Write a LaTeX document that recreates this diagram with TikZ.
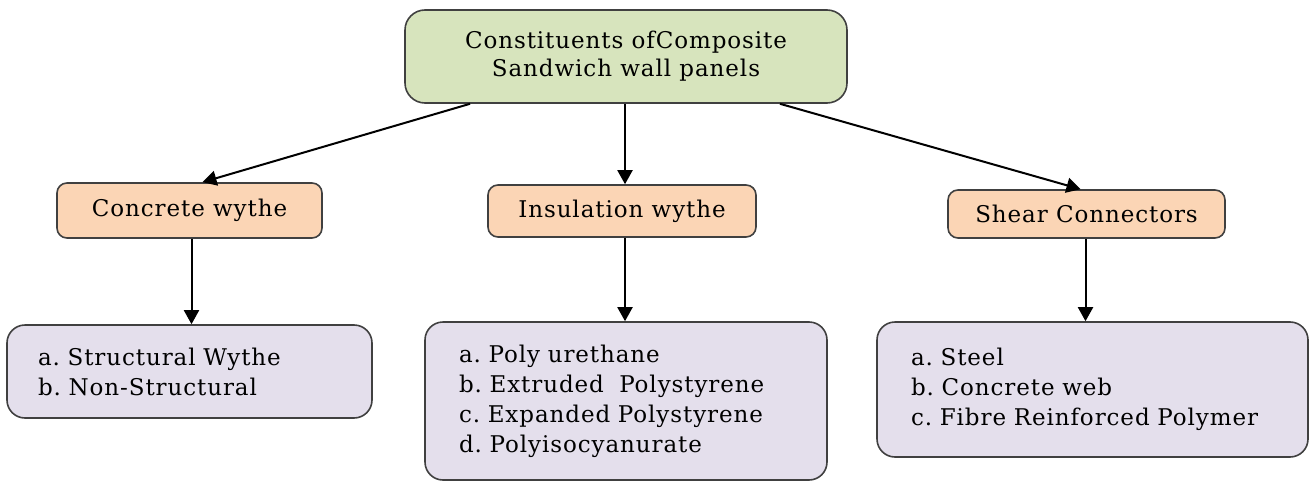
\documentclass[tikz,border=0pt]{standalone}
\usepackage{fontspec}
\setmainfont{DejaVu Serif}[LetterSpace=4]
\usetikzlibrary{arrows.meta}
\definecolor{topfill}{HTML}{D7E4BD}
\definecolor{midfill}{HTML}{FBD5B5}
\definecolor{botfill}{HTML}{E4DFEC}
\definecolor{edge}{HTML}{404040}
\tikzset{
  box/.style={draw=edge, line width=0.8pt, inner sep=0pt, font=\fontsize{11.5}{14}\selectfont\frenchspacing},
  topbox/.style={box, fill=topfill, rounded corners=10pt, align=center},
  midbox/.style={box, fill=midfill, rounded corners=5pt},
  listbox/.style={box, fill=botfill, rounded corners=9pt, align=left, inner xsep=17pt, font=\fontsize{11.5}{15}\selectfont\frenchspacing},
  conn/.style={line width=1pt, -{Triangle[length=7pt,width=7.5pt]}}
}
\begin{document}
\begin{tikzpicture}[x=0.5pt,y=-0.5pt]
\useasboundingbox (0,0) rectangle (1310,481);
\node[topbox, minimum width=221pt, minimum height=46.5pt] (top) at (626,56.5) {Constituents ofComposite\\Sandwich wall panels};
\node[midbox, minimum width=132.5pt, minimum height=27.5pt] (cw) at (189.5,210.5) {Concrete wythe};
\node[midbox, minimum width=134pt, minimum height=26pt] (iw) at (622,211) {Insulation wythe};
\node[midbox, minimum width=138.5pt, minimum height=24pt] (sc) at (1086.5,214) {Shear Connectors};
\node[listbox, inner xsep=15.5pt, text width=151.5pt, minimum height=46.5pt] (bl) at (189.5,371.5) {a. Structural Wythe\\b. Non-Structural};
\node[listbox, text width=167pt, minimum height=79pt] (bm) at (626,401) {a. Poly urethane\\b. Extruded\ \ Polystyrene\\c. Expanded Polystyrene\\d. Polyisocyanurate};
\node[listbox, text width=181.5pt, minimum height=67.5pt] (br) at (1092.5,389.5) {a. Steel\\b. Concrete web\\c. Fibre Reinforced Polymer};
\draw[conn] ([xshift=-78pt]top.south) -- ([xshift=6.5pt]cw.north);
\draw[conn] ([xshift=-0.5pt]top.south) -- ([xshift=1.5pt]iw.north);
\draw[conn] ([xshift=77pt]top.south) -- ([xshift=-3pt]sc.north);
\draw[conn] ([xshift=1pt]cw.south) -- ([xshift=1pt]bl.north);
\draw[conn] ([xshift=1.5pt]iw.south) -- ([xshift=1.5pt]iw.south |- bm.north);
\draw[conn] ([xshift=-0.5pt]sc.south) -- ([xshift=-0.5pt]sc.south |- br.north);
\end{tikzpicture}
\end{document}
